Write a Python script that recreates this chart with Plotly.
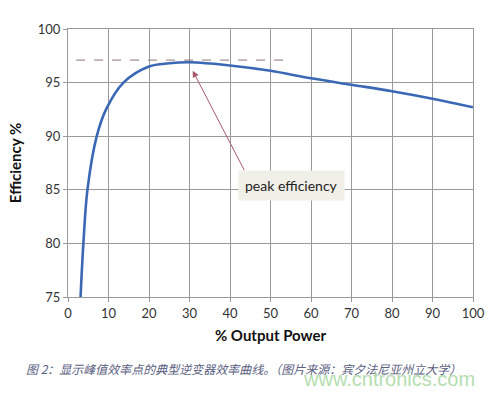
import plotly.graph_objects as go

output_power = [3.1, 3.8, 4.8, 7.1, 9.4, 13.7, 20, 25, 30, 40, 50, 60, 70, 80, 90, 100]
efficiency = [75, 80, 85, 90, 92.5, 95, 96.5, 96.8, 96.9, 96.6, 96.1, 95.4, 94.8, 94.2, 93.5, 92.7]

x_ticks = [0, 10, 20, 30, 40, 50, 60, 70, 80, 90, 100]
y_ticks = [75, 80, 85, 90, 95, 100]

peak_line_y = 97.1
peak_line_x = [2, 54]
arrow_tip = (30.8, 96.1)
arrow_tail = (43.7, 86.7)
label_pos = (55.1, 85.4)

# plot area in pixels
L, R, T, B, W, H = 68, 24, 29, 97, 497, 394
PW, PH = W - L - R, H - T - B


def px_to_paper(px, py):
    return (px - L) / PW, (H - B - py) / PH


fig = go.Figure()
fig.add_trace(go.Scatter(
    x=output_power, y=efficiency, mode="lines",
    line=dict(color="#3b68b4", width=2.6, shape="spline", smoothing=1.0),
    hoverinfo="skip", showlegend=False,
))

fig.add_shape(type="line", xref="x", yref="y",
              x0=peak_line_x[0], x1=peak_line_x[1], y0=peak_line_y, y1=peak_line_y,
              line=dict(color="#8c7474", width=1, dash="dash"))

fig.add_annotation(x=arrow_tip[0], y=arrow_tip[1], ax=arrow_tail[0], ay=arrow_tail[1],
                   xref="x", yref="y", axref="x", ayref="y", text="",
                   showarrow=True, arrowhead=2, arrowsize=1.3, arrowwidth=1,
                   arrowcolor="#a85a6a", standoff=0, startstandoff=0)

fig.add_annotation(x=label_pos[0], y=label_pos[1], xref="x", yref="y",
                   text="peak efficiency", showarrow=False,
                   font=dict(family="Lato", size=14, color="#222"),
                   bgcolor="#f1f0e8", borderpad=6)

cx, cy = px_to_paper(24, 368)
fig.add_annotation(x=cx, y=cy, xref="paper", yref="paper",
                   xanchor="left", yanchor="middle", showarrow=False,
                   text="<i>图 2：显示峰值效率点的典型逆变器效率曲线。（图片来源：宾夕法尼亚州立大学）</i>",
                   font=dict(family="Noto Sans CJK SC", size=12, color="#5a6080"))
wx, wy = px_to_paper(477, 379)
fig.add_annotation(x=wx, y=wy, xref="paper", yref="paper",
                   xanchor="right", yanchor="middle", showarrow=False,
                   text="www.cntronics.com",
                   font=dict(family="Liberation Sans", size=20, color="#b5ddb0"))

axis_common = dict(showgrid=True, gridcolor="#9a9a9a", gridwidth=1.2,
                   showline=True, linecolor="#9a9a9a", linewidth=1.2, mirror=True,
                   ticks="outside", ticklen=4, tickcolor="#9a9a9a", tickwidth=1.2,
                   zeroline=False, fixedrange=True)

fig.update_layout(
    width=W, height=H,
    margin=dict(l=L, r=R, t=T, b=B),
    paper_bgcolor="white", plot_bgcolor="white",
    font=dict(family="Lato", size=13, color="#333"),
    xaxis=dict(range=[0, 100], tickvals=x_ticks,
               title=dict(text="<b>% Output Power</b>", font=dict(size=15, color="#111"), standoff=10),
               **axis_common),
    yaxis=dict(range=[75, 100], tickvals=y_ticks,
               title=dict(text="<b>Efficiency %</b>", font=dict(size=15, color="#111"), standoff=12),
               **axis_common),
)

fig.write_html("out.html")
